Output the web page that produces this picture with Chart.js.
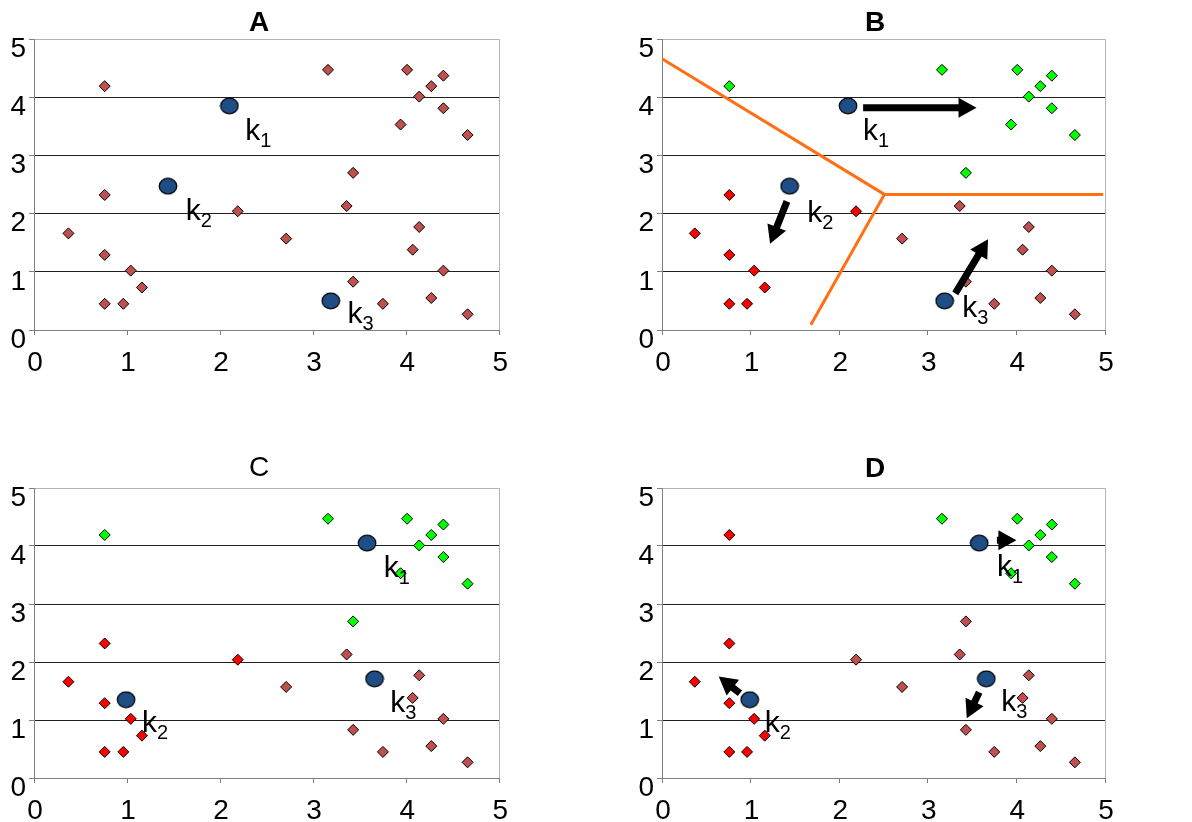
<!DOCTYPE html>
<html>
<head>
<meta charset="utf-8">
<script src="https://cdn.jsdelivr.net/npm/chart.js@4.4.1/dist/chart.umd.min.js"></script>
<style>
  html, body { margin: 0; padding: 0; background: #fff; }
  body { width: 1192px; height: 822px; position: relative; overflow: hidden; }
  canvas { position: absolute; }
</style>
</head>
<body>
<canvas id="chartA" width="518" height="374" style="left:0;top:0"></canvas>
<canvas id="chartB" width="558" height="374" style="left:596px;top:0"></canvas>
<canvas id="chartC" width="518" height="382" style="left:0;top:440px"></canvas>
<canvas id="chartD" width="558" height="382" style="left:596px;top:440px"></canvas>
<script>
// the same 27 points in every panel
const pointX = [0.76, 0.76, 0.37, 0.76, 1.04, 1.16, 0.76, 0.96, 2.19, 2.71, 3.16, 3.43, 3.36, 3.43, 3.75,
                4.01, 4.40, 4.27, 4.14, 4.40, 3.94, 4.66, 4.14, 4.07, 4.40, 4.27, 4.66];
const pointY = [4.19, 2.32, 1.66, 1.29, 1.02, 0.73, 0.45, 0.45, 2.04, 1.57, 4.47, 2.70, 2.13, 0.83, 0.45,
                4.47, 4.37, 4.19, 4.01, 3.81, 3.53, 3.35, 1.77, 1.38, 1.02, 0.55, 0.27];

// cluster of each point (1 = k1 green, 2 = k2 red, 3 = k3 / unassigned brown)
const clustersA = [3, 3, 3, 3, 3, 3, 3, 3, 3, 3, 3, 3, 3, 3, 3, 3, 3, 3, 3, 3, 3, 3, 3, 3, 3, 3, 3];
const clustersB = [1, 2, 2, 2, 2, 2, 2, 2, 2, 3, 1, 1, 3, 3, 3, 1, 1, 1, 1, 1, 1, 1, 3, 3, 3, 3, 3];
const clustersC = [1, 2, 2, 2, 2, 2, 2, 2, 2, 3, 1, 1, 3, 3, 3, 1, 1, 1, 1, 1, 1, 1, 3, 3, 3, 3, 3];
const clustersD = [2, 2, 2, 2, 2, 2, 2, 2, 3, 3, 1, 3, 3, 3, 3, 1, 1, 1, 1, 1, 1, 1, 3, 3, 3, 3, 3];

// centroids k1, k2, k3
const centroidAX = [2.10, 1.44, 3.19];
const centroidAY = [3.85, 2.47, 0.50];
const centroidCX = [3.58, 0.99, 3.66];
const centroidCY = [4.05, 1.35, 1.71];

// where the k labels sit (left of "k", baseline)
const labelAX = [2.27, 1.63, 3.37];
const labelAY = [3.27, 1.89, 0.12];
const labelBX = [2.27, 1.64, 3.39];
const labelBY = [3.27, 1.86, 0.22];
const labelCX = [3.76, 1.16, 3.83];
const labelCY = [3.47, 0.79, 1.13];
const labelDX = [3.78, 1.16, 3.83];
const labelDY = [3.48, 0.80, 1.15];

// centroid moves
const arrowBFromX = [2.27, 1.41, 3.31];
const arrowBFromY = [3.82, 2.21, 0.63];
const arrowBToX = [3.55, 1.22, 3.68];
const arrowBToY = [3.82, 1.48, 1.56];
const arrowDFromX = [3.78, 0.88, 3.58];
const arrowDFromY = [4.10, 1.46, 1.48];
const arrowDToX = [4.00, 0.64, 3.44];
const arrowDToY = [4.10, 1.75, 1.03];

// boundaries between clusters in B
const borderOneX = [0, 2.51, 4.98];
const borderOneY = [4.66, 2.33, 2.33];
const borderTwoX = [2.51, 1.68];
const borderTwoY = [2.33, 0.09];

const tickValues = [0, 1, 2, 3, 4, 5];
const kNames = ["1", "2", "3"];

const clusterColors = { 1: "#00FF00", 2: "#FF0000", 3: "#C0504D" };

const FONT = "'Liberation Sans', Arial, sans-serif";
Chart.defaults.font.family = FONT;
Chart.defaults.color = "#000";

function toPoints(xs, ys) {
  return xs.map((x, i) => ({ x: x, y: ys[i] }));
}

function ellipseImage() {
  const c = document.createElement("canvas");
  c.width = 20;
  c.height = 18;
  const g = c.getContext("2d");
  g.beginPath();
  g.ellipse(10, 9, 8.8, 7.8, 0, 0, Math.PI * 2);
  g.fillStyle = "#1F4E86";
  g.fill();
  g.lineWidth = 1.2;
  g.strokeStyle = "#000";
  g.stroke();
  return c;
}
const centroidImg = ellipseImage();

function drawArrow(ctx, x1, y1, x2, y2) {
  const ang = Math.atan2(y2 - y1, x2 - x1);
  const len = Math.hypot(x2 - x1, y2 - y1);
  const head = Math.min(18, len);
  ctx.save();
  ctx.translate(x1, y1);
  ctx.rotate(ang);
  ctx.fillStyle = "#000";
  ctx.beginPath();
  ctx.moveTo(0, -3.5);
  ctx.lineTo(len - head, -3.5);
  ctx.lineTo(len - head, -10);
  ctx.lineTo(len, 0);
  ctx.lineTo(len - head, 10);
  ctx.lineTo(len - head, 3.5);
  ctx.lineTo(0, 3.5);
  ctx.closePath();
  ctx.fill();
  ctx.restore();
}

function makeChart(id, p) {
  const datasets = [
    {
      label: "centroids",
      data: toPoints(p.cx, p.cy),
      pointStyle: centroidImg,
      pointRadius: 9
    },
    {
      label: "points",
      data: toPoints(pointX, pointY),
      pointStyle: "rectRot",
      pointRadius: 5.5,
      pointBorderWidth: 1,
      pointBorderColor: "#000",
      pointBackgroundColor: p.clusters.map(c => clusterColors[c])
    }
  ];
  if (p.borders) {
    p.borders.forEach(b => {
      datasets.push({
        label: "border",
        data: toPoints(b[0], b[1]),
        showLine: true,
        borderColor: "#FF7014",
        borderWidth: 3,
        pointRadius: 0
      });
    });
  }

  const decor = {
    id: "decor" + id,
    beforeDatasetsDraw(chart) {
      const a = chart.chartArea;
      const ctx = chart.ctx;
      ctx.save();
      ctx.strokeStyle = "#b4b4b4";
      ctx.lineWidth = 1;
      ctx.beginPath();
      ctx.moveTo(Math.round(a.right) + 0.5, a.top);
      ctx.lineTo(Math.round(a.right) + 0.5, a.bottom);
      ctx.stroke();
      // panel title, centred over the canvas
      ctx.fillStyle = "#000";
      ctx.textAlign = "center";
      ctx.textBaseline = "middle";
      ctx.font = (p.bold ? "bold " : "") + "28px " + FONT;
      ctx.fillText(p.title, chart.width / 2, p.titleY);
      ctx.restore();
    },
    afterDatasetsDraw(chart) {
      const ctx = chart.ctx;
      const xs = chart.scales.x, ys = chart.scales.y;
      if (p.arrows) {
        const ar = p.arrows;
        ar[0].forEach((x, i) => {
          drawArrow(ctx, xs.getPixelForValue(x), ys.getPixelForValue(ar[1][i]),
            xs.getPixelForValue(ar[2][i]), ys.getPixelForValue(ar[3][i]));
        });
      }
      ctx.save();
      ctx.fillStyle = "#000";
      ctx.textBaseline = "alphabetic";
      p.lx.forEach((x, i) => {
        const px = xs.getPixelForValue(x);
        const py = ys.getPixelForValue(p.ly[i]);
        ctx.font = "30px " + FONT;
        ctx.fillText("k", px, py);
        const w = ctx.measureText("k").width;
        ctx.font = "20px " + FONT;
        ctx.fillText(kNames[i], px + w, py + 7);
      });
      ctx.restore();
    }
  };

  return new Chart(document.getElementById(id), {
    type: "scatter",
    data: { datasets },
    options: {
      responsive: false,
      animation: false,
      events: [],
      layout: { padding: { left: 0, right: p.padRight, top: p.padTop, bottom: 0 } },
      plugins: {
        legend: { display: false },
        tooltip: { enabled: false },
        title: { display: false }
      },
      scales: {
        x: {
          type: "linear",
          min: 0,
          max: 5,
          afterBuildTicks: s => { s.ticks = tickValues.map(v => ({ value: v })); },
          afterFit: s => { s.height = 44; },
          ticks: { autoSkip: false, maxRotation: 0, font: { size: 28 }, color: "#000", padding: 11, labelOffset: 1 },
          grid: { drawOnChartArea: false, drawTicks: true, tickLength: 5, color: "#808080" },
          border: { color: "#808080" }
        },
        y: {
          type: "linear",
          min: 0,
          max: 5,
          afterBuildTicks: s => { s.ticks = tickValues.map(v => ({ value: v })); },
          afterFit: s => { s.width = p.axisWidth; },
          ticks: { autoSkip: false, font: { size: 28 }, color: "#000", padding: 3, labelOffset: 10 },
          grid: {
            drawTicks: true,
            tickLength: 5,
            tickColor: "#808080",
            color: ctx => ctx.tick.value === 5 ? "#b4b4b4" : (ctx.tick.value === 0 ? "#808080" : "#202020")
          },
          border: { color: "#808080" }
        }
      }
    },
    plugins: [decor]
  });
}

makeChart("chartA", {
  title: "A", bold: true, titleY: 23, padTop: 39, axisWidth: 34, padRight: 15,
  clusters: clustersA, cx: centroidAX, cy: centroidAY, lx: labelAX, ly: labelAY
});
makeChart("chartB", {
  title: "B", bold: true, titleY: 23, padTop: 39, axisWidth: 66, padRight: 49,
  clusters: clustersB, cx: centroidAX, cy: centroidAY, lx: labelBX, ly: labelBY,
  arrows: [arrowBFromX, arrowBFromY, arrowBToX, arrowBToY],
  borders: [[borderOneX, borderOneY], [borderTwoX, borderTwoY]]
});
makeChart("chartC", {
  title: "C", bold: false, titleY: 28, padTop: 48, axisWidth: 34, padRight: 15,
  clusters: clustersC, cx: centroidCX, cy: centroidCY, lx: labelCX, ly: labelCY
});
makeChart("chartD", {
  title: "D", bold: true, titleY: 29, padTop: 48, axisWidth: 66, padRight: 49,
  clusters: clustersD, cx: centroidCX, cy: centroidCY, lx: labelDX, ly: labelDY,
  arrows: [arrowDFromX, arrowDFromY, arrowDToX, arrowDToY]
});
</script>
</body>
</html>
